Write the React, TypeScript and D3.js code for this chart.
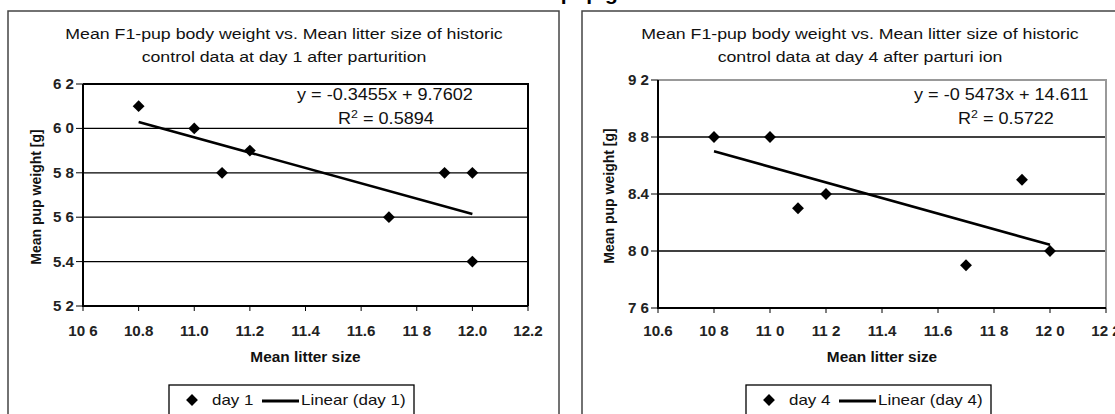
import * as d3 from "d3";

// x values (mean litter size) shared by both panels
const xTicks = [10.6, 10.8, 11.0, 11.2, 11.4, 11.6, 11.8, 12.0, 12.2];

// day 1
const day1XLabels = ["10 6", "10.8", "11.0", "11.2", "11.4", "11.6", "11 8", "12.0", "12.2"];
const day1YTicks = [5.2, 5.4, 5.6, 5.8, 6.0, 6.2];
const day1YLabels = ["5 2", "5.4", "5 6", "5 8", "6 0", "6 2"];
const day1Litter = [10.8, 11.0, 11.1, 11.2, 11.7, 11.9, 12.0, 12.0];
const day1Weight = [6.1, 6.0, 5.8, 5.9, 5.6, 5.8, 5.8, 5.4];
const day1Slope = -0.3455;
const day1Intercept = 9.7602;

// day 4
const day4XLabels = ["10.6", "10 8", "11 0", "11 2", "11.4", "11.6", "11 8", "12 0", "12 2"];
const day4YTicks = [7.6, 8.0, 8.4, 8.8, 9.2];
const day4YLabels = ["7 6", "8 0", "8.4", "8 8", "9 2"];
const day4Litter = [10.8, 11.0, 11.1, 11.2, 11.7, 11.9, 12.0];
const day4Weight = [8.8, 8.8, 8.3, 8.4, 7.9, 8.5, 8.0];
const day4Slope = -0.5473;
const day4Intercept = 14.611;

const FONT = "'Liberation Sans', Arial, sans-serif";
const SX = 1.13;

function T({ x, y, children, size = 15, weight = "normal", anchor = "start", fill = "#111", sx = SX }) {
  return (
    <text
      transform={`translate(${x},${y}) scale(${sx},1)`}
      fontSize={size}
      fontWeight={weight}
      textAnchor={anchor}
      fontFamily={FONT}
      fill={fill}
    >
      {children}
    </text>
  );
}

function Panel({ cfg }) {
  const x = d3.scaleLinear().domain([10.6, 12.2]).range([cfg.left, cfg.right]);
  const y = d3.scaleLinear().domain(cfg.yDomain).range([cfg.bottom, cfg.top]);
  const diamond = d3.symbol(d3.symbolSquare, 70)();
  const xs = d3.extent(cfg.litter);
  const line = d3
    .line()
    .x((d) => x(d))
    .y((d) => y(cfg.slope * d + cfg.intercept));
  const midX = (cfg.left + cfg.right) / 2;
  const midY = (cfg.top + cfg.bottom) / 2;
  const yGrid = cfg.yTicks.slice(1, -1);

  return (
    <g>
      {/* outer frame */}
      <rect x={cfg.frameX} y={11} width={cfg.frameW} height={420} fill="none" stroke="#444" strokeWidth={1.5} />

      <T x={cfg.titleX} y={39} size={15.3} anchor="middle" sx={1.16}>{cfg.title1}</T>
      <T x={cfg.titleX} y={62} size={15.3} anchor="middle" sx={1.16}>{cfg.title2}</T>

      {/* grid */}
      {yGrid.map((v) => (
        <line key={v} x1={cfg.left} x2={cfg.right} y1={y(v)} y2={y(v)} stroke="#000" strokeWidth={1.3} />
      ))}

      {/* top / right border */}
      <polyline
        points={`${cfg.left},${cfg.top} ${cfg.right},${cfg.top} ${cfg.right},${cfg.bottom}`}
        fill="none"
        stroke={cfg.borderColor}
        strokeWidth={2}
      />
      {/* axes */}
      <polyline
        points={`${cfg.left},${cfg.top} ${cfg.left},${cfg.bottom} ${cfg.right},${cfg.bottom}`}
        fill="none"
        stroke="#000"
        strokeWidth={2}
      />

      {/* y ticks */}
      {cfg.yTicks.map((v, i) => (
        <g key={v}>
          <line x1={cfg.left - 7} x2={cfg.left} y1={y(v)} y2={y(v)} stroke="#000" strokeWidth={1} />
          <T x={cfg.left - 9} y={y(v) + 5} size={14} weight="bold" anchor="end" fill="#222" sx={1.08}>
            {cfg.yLabels[i]}
          </T>
        </g>
      ))}

      {/* x ticks */}
      {xTicks.map((v, i) => (
        <g key={v}>
          <line x1={x(v)} x2={x(v)} y1={cfg.bottom} y2={cfg.bottom + 5} stroke="#000" strokeWidth={1} />
          <T x={x(v)} y={336} size={14} weight="bold" anchor="middle" fill="#222" sx={1.08}>
            {cfg.xLabels[i]}
          </T>
        </g>
      ))}

      {/* trend line */}
      <path d={line(xs)} fill="none" stroke="#000" strokeWidth={2.5} />

      {/* points */}
      {cfg.litter.map((v, i) => (
        <path
          key={i}
          d={diamond}
          transform={`translate(${x(v)},${y(cfg.weight[i])}) rotate(45)`}
          fill="#000"
        />
      ))}

      {/* equation */}
      <T x={cfg.eqX} y={100} size={16}>{cfg.eq}</T>
      <text
        transform={`translate(${cfg.r2X},${124}) scale(${SX},1)`}
        fontSize={16}
        fontFamily={FONT}
        fill="#111"
      >
        <tspan>R</tspan>
        <tspan dy={-6} fontSize={11}>2</tspan>
        <tspan dy={6}>{` = ${cfg.r2}`}</tspan>
      </text>

      {/* axis titles */}
      <T x={midX} y={362} size={14} weight="bold" anchor="middle" sx={1.1}>Mean litter size</T>
      <text
        transform={`translate(${cfg.yTitleX},${midY + 2}) rotate(-90)`}
        fontSize={14}
        fontWeight="bold"
        textAnchor="middle"
        fontFamily={FONT}
        fill="#111"
      >
        Mean pup weight [g]
      </text>

      {/* legend */}
      <rect x={cfg.legX} y={385} width={cfg.legW} height={40} fill="#fff" stroke="#000" strokeWidth={1.3} />
      <path d={diamond} transform={`translate(${cfg.legX + 23},${400}) rotate(45)`} fill="#000" />
      <T x={cfg.legX + 43} y={405}>{cfg.name}</T>
      <line x1={cfg.legX + 93} x2={cfg.legX + 130} y1={401} y2={401} stroke="#000" strokeWidth={3} />
      <T x={cfg.legX + 132} y={405}>{`Linear (${cfg.name})`}</T>
    </g>
  );
}

const panels = [
  {
    frameX: 8,
    frameW: 551,
    titleX: 284,
    title1: "Mean F1-pup body weight vs. Mean litter size of historic",
    title2: "control data at day 1 after parturition",
    left: 83,
    right: 528,
    top: 84,
    bottom: 306,
    yDomain: [5.2, 6.2],
    yTicks: day1YTicks,
    yLabels: day1YLabels,
    xLabels: day1XLabels,
    litter: day1Litter,
    weight: day1Weight,
    slope: day1Slope,
    intercept: day1Intercept,
    borderColor: "#000",
    eq: "y = -0.3455x + 9.7602",
    eqX: 297,
    r2: "0.5894",
    r2X: 338,
    yTitleX: 41,
    legX: 169,
    legW: 245,
    name: "day 1",
  },
  {
    frameX: 582,
    frameW: 560,
    titleX: 860,
    title1: "Mean F1-pup body weight vs. Mean litter size of historic",
    title2: "control data at day 4 after parturi ion",
    left: 658,
    right: 1106,
    top: 80,
    bottom: 308,
    yDomain: [7.6, 9.2],
    yTicks: day4YTicks,
    yLabels: day4YLabels,
    xLabels: day4XLabels,
    litter: day4Litter,
    weight: day4Weight,
    slope: day4Slope,
    intercept: day4Intercept,
    borderColor: "#999",
    eq: "y = -0 5473x + 14.611",
    eqX: 914,
    r2: "0.5722",
    r2X: 958,
    yTitleX: 614,
    legX: 746,
    legW: 245,
    name: "day 4",
  },
];

export default function App() {
  return (
    <svg
      width={1115}
      height={414}
      style={{ position: "absolute", left: 0, top: 0, background: "#fff" }}
    >
      <rect x={0} y={0} width={1115} height={414} fill="#fff" />
      {/* page heading, only its descenders are on screen */}
      <text x={675} y={0} fontSize={21} fontWeight="bold" textAnchor="end" fontFamily={FONT} fill="#000">
        Historic control data of F1-pup growth
      </text>
      {panels.map((p) => (
        <Panel key={p.name} cfg={p} />
      ))}
    </svg>
  );
}
